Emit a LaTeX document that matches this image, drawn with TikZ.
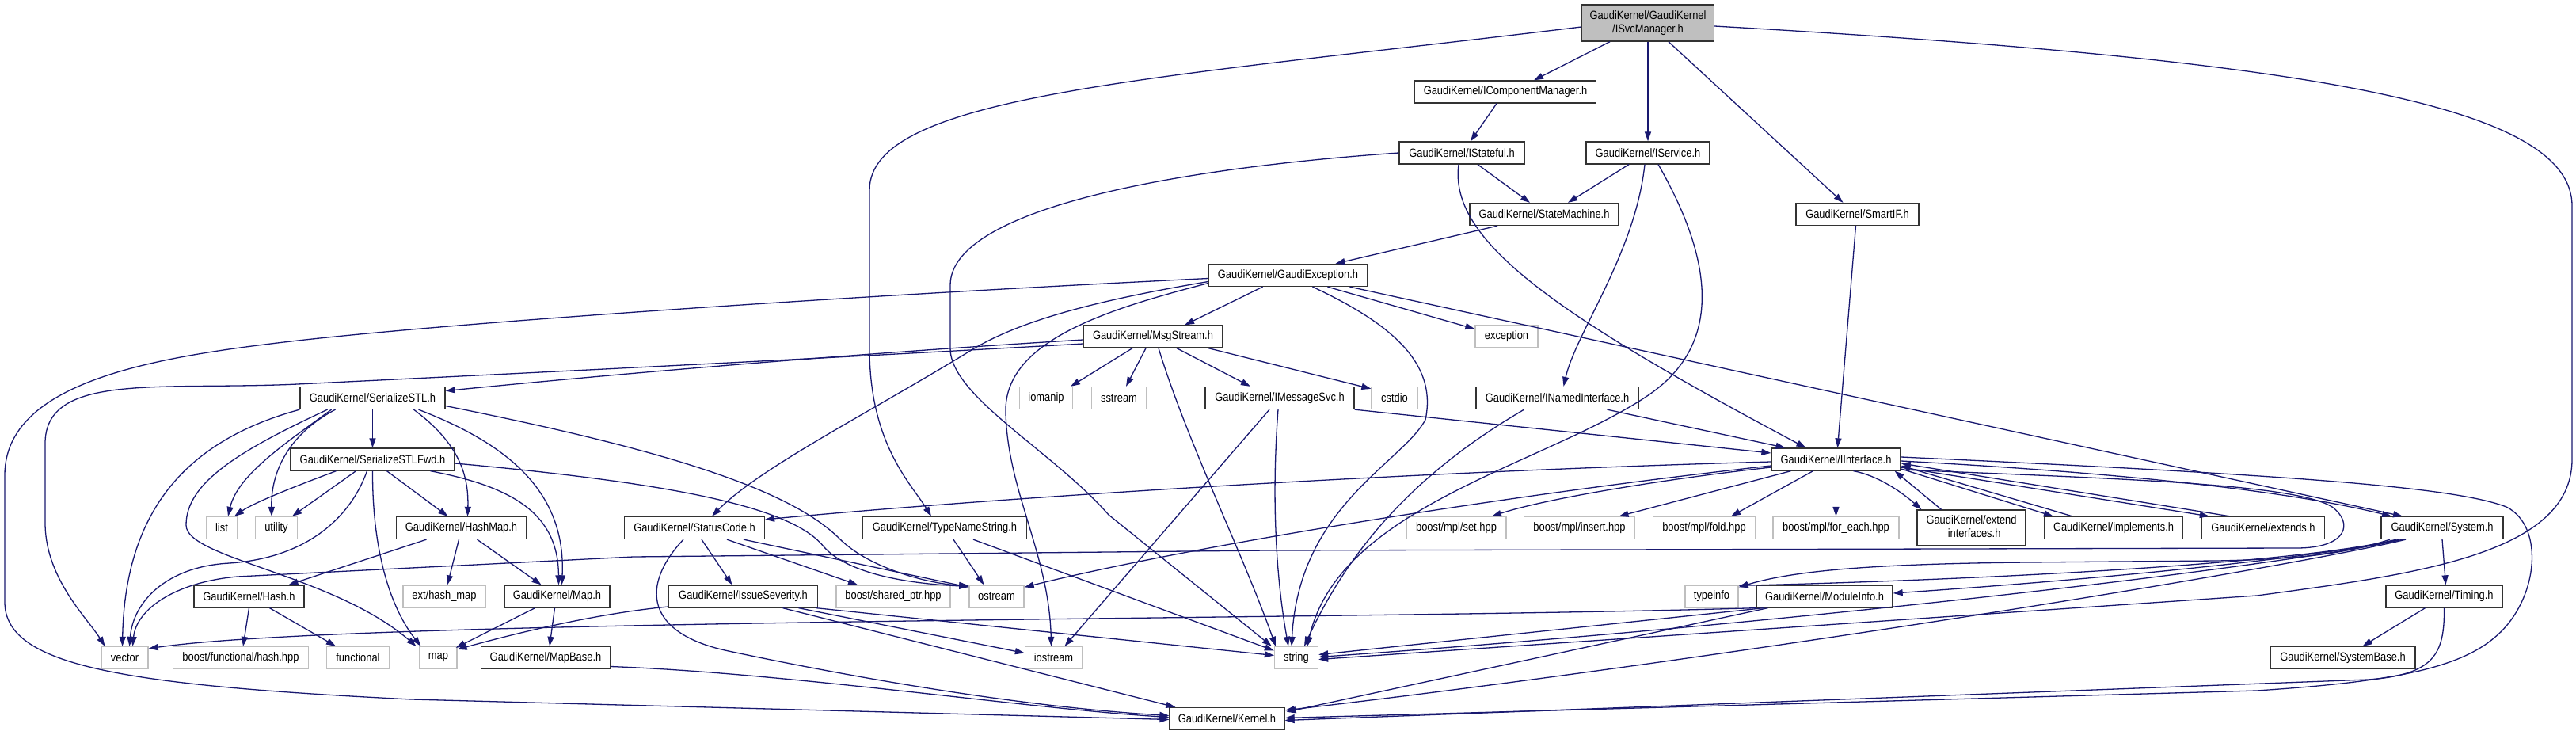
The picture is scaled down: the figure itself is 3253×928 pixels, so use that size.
\documentclass[tikz,border=0pt]{standalone}
\usepackage{fontspec}
\setmainfont{Liberation Sans}[FakeStretch=0.86]
\usetikzlibrary{arrows.meta}
\definecolor{edgec}{HTML}{191970}
\definecolor{sysgray}{HTML}{BFBFBF}
\definecolor{rootgray}{HTML}{BFBFBF}
\newcommand\gkfont{\fontsize{15}{17}\selectfont}
\begin{document}
\begin{tikzpicture}[x=1pt,y=-1pt,
 hdr/.style={draw=black!80, line width=1.3pt, fill=white, rectangle, minimum height=28pt, inner sep=0pt, align=center, font=\gkfont},
 sys/.style={hdr, draw=sysgray},
 conn/.style={draw=edgec, line width=1.3pt, -{Triangle[length=12pt,width=8pt]}},
]
\useasboundingbox (0,0) rectangle (3253,928);
\fill[white] (0,0) rectangle (3253,928);
% ---------------- nodes ----------------
\node[hdr, fill=rootgray, minimum width=167pt, minimum height=46pt] (svc) at (2081,29) {GaudiKernel/GaudiKernel\\/ISvcManager.h};
\node[hdr, minimum width=229pt] (icm) at (1901,116) {GaudiKernel/IComponentManager.h};
\node[hdr, minimum width=158pt] (istate) at (1846,193) {GaudiKernel/IStateful.h};
\node[hdr, minimum width=156pt] (iserv) at (2081,193) {GaudiKernel/IService.h};
\node[hdr, minimum width=188pt] (statem) at (1950,270.5) {GaudiKernel/StateMachine.h};
\node[hdr, minimum width=155pt] (smartif) at (2345.5,270.5) {GaudiKernel/SmartIF.h};
\node[hdr, minimum width=200pt] (gexc) at (1626.5,347.5) {GaudiKernel/GaudiException.h};
\node[sys, minimum width=79pt] (exc) at (1902.5,425) {exception};
\node[hdr, minimum width=175pt] (msg) at (1456,425) {GaudiKernel/MsgStream.h};
\node[sys, minimum width=67pt] (iomanip) at (1321,502.5) {iomanip};
\node[sys, minimum width=69pt] (sstream) at (1413,502.5) {sstream};
\node[hdr, minimum width=188pt] (imsg) at (1616,502.5) {GaudiKernel/IMessageSvc.h};
\node[sys, minimum width=58pt] (cstdio) at (1761,502.5) {cstdio};
\node[hdr, minimum width=205pt] (inamed) at (1966.5,502.5) {GaudiKernel/INamedInterface.h};
\node[hdr, minimum width=183pt] (sstl) at (470.5,502.5) {GaudiKernel/SerializeSTL.h};
\node[hdr, minimum width=163pt] (iint) at (2318.5,580) {GaudiKernel/IInterface.h};
\node[hdr, minimum width=207pt] (sfwd) at (470.5,580) {GaudiKernel/SerializeSTLFwd.h};
\node[sys, minimum width=39pt] (list) at (280,666.5) {list};
\node[sys, minimum width=53pt] (utility) at (349,666.5) {utility};
\node[hdr, minimum width=164pt] (hashmap) at (582.5,666.5) {GaudiKernel/HashMap.h};
\node[hdr, minimum width=177pt] (status) at (877,666.5) {GaudiKernel/StatusCode.h};
\node[hdr, minimum width=207pt] (tns) at (1193,666.5) {GaudiKernel/TypeNameString.h};
\node[sys, minimum width=126pt] (mplset) at (1839,666.5) {boost/mpl/set.hpp};
\node[sys, minimum width=140pt] (mplins) at (1994.5,666.5) {boost/mpl/insert.hpp};
\node[sys, minimum width=129pt] (mplfold) at (2152,666.5) {boost/mpl/fold.hpp};
\node[sys, minimum width=159pt] (mplfe) at (2318.5,666.5) {boost/mpl/for\_each.hpp};
\node[hdr, minimum width=137pt, minimum height=45pt] (extint) at (2489.5,666.5) {GaudiKernel/extend\\\_interfaces.h};
\node[hdr, minimum width=175pt] (impl) at (2669,666.5) {GaudiKernel/implements.h};
\node[hdr, minimum width=155pt] (ext) at (2858,666.5) {GaudiKernel/extends.h};
\node[hdr, minimum width=154pt] (system) at (3084,666.5) {GaudiKernel/System.h};
\node[hdr, minimum width=139pt] (hash) at (314.5,753) {GaudiKernel/Hash.h};
\node[sys, minimum width=104pt] (exthm) at (561,753) {ext/hash\_map};
\node[hdr, minimum width=133pt] (maph) at (703.5,753) {GaudiKernel/Map.h};
\node[hdr, minimum width=188pt] (issue) at (938.5,753) {GaudiKernel/IssueSeverity.h};
\node[sys, minimum width=144pt] (bsp) at (1128,753) {boost/shared\_ptr.hpp};
\node[sys, minimum width=69pt] (ostream) at (1258.5,753) {ostream};
\node[sys, minimum width=67pt] (typeinfo) at (2161.5,753) {typeinfo};
\node[hdr, minimum width=172pt] (modinfo) at (2304,753) {GaudiKernel/ModuleInfo.h};
\node[hdr, minimum width=147pt] (timing) at (3086.5,753) {GaudiKernel/Timing.h};
\node[sys, minimum width=59pt] (vector) at (157.5,830.5) {vector};
\node[sys, minimum width=171pt] (bfh) at (304,830.5) {boost/functional/hash.hpp};
\node[sys, minimum width=79pt] (functional) at (452,830.5) {functional};
\node[sys, minimum width=47pt] (mapstd) at (553.5,830.5) {map};
\node[hdr, minimum width=163pt] (mapbase) at (689,830.5) {GaudiKernel/MapBase.h};
\node[sys, minimum width=72pt] (iostream) at (1330.5,830.5) {iostream};
\node[sys, minimum width=55pt] (string) at (1637,830.5) {string};
\node[hdr, minimum width=183pt] (sysbase) at (2958.5,830.5) {GaudiKernel/SystemBase.h};
\node[hdr, minimum width=145pt] (kernel) at (1549.5,907.5) {GaudiKernel/Kernel.h};
% ---------------- edges ----------------
% ISvcManager
\draw[conn] ([xshift=-48pt]svc.south) -- ([xshift=36pt]icm.north);
\draw[conn] (svc.south) -- (iserv.north);
\draw[conn] ([xshift=26pt]svc.south) -- ([xshift=-18pt]smartif.north);
\draw[conn] ([yshift=-5pt]svc.west) .. controls (1450,100) and (1098,120) .. (1098,240) -- (1098,440) .. controls (1098,560) and (1150,610) .. ([xshift=-17pt]tns.north);
\draw[conn] ([yshift=-4pt]svc.east) .. controls (2900,75) and (3248,130) .. (3248,260) -- (3248,580) .. controls (3248,700) and (3050,725) .. (2850,752) -- ([yshift=-2pt]string.east);
% IComponentManager, IStateful, IService, SmartIF, StateMachine
\draw[conn] ([xshift=-11pt]icm.south) -- ([xshift=11pt]istate.north);
\draw[conn] ([xshift=20pt]istate.south) -- ([xshift=-18pt]statem.north);
\draw[conn] ([xshift=-4pt]istate.south) .. controls (1830,300) and (1950,390) .. ([xshift=-38pt]iint.north);
\draw[conn] (istate.west) .. controls (1450,215) and (1200,270) .. (1200,360) -- (1200,440) .. controls (1200,500) and (1330,570) .. (1400,650) -- ([xshift=-3pt]string.north west);
\draw[conn] ([xshift=-24pt]iserv.south) -- ([xshift=30pt]statem.north);
\draw[conn] ([xshift=-4pt]iserv.south) .. controls (2065,320) and (1990,420) .. ([xshift=8pt]inamed.north);
\draw[conn] ([xshift=13pt]iserv.south) .. controls (2170,340) and (2170,440) .. (2080,500) .. controls (1950,587) and (1690,640) .. ([xshift=14pt]string.north);
\draw[conn] ([xshift=-2pt]smartif.south) -- ([xshift=2pt]iint.north);
\draw[conn] ([xshift=-59pt]statem.south) -- ([xshift=60pt]gexc.north);
% GaudiException
\draw[conn] ([xshift=-32pt]gexc.south) -- ([xshift=40pt]msg.north);
\draw[conn] ([xshift=50pt]gexc.south) -- ([yshift=-5pt]exc.north west);
\draw[conn] ([yshift=-10pt]gexc.west) .. controls (1400,390) and (1268,430) .. (1270,520) .. controls (1272,620) and (1325,700) .. ([xshift=-3pt]iostream.north);
\draw[conn] ([xshift=31pt]gexc.south) .. controls (1760,410) and (1815,460) .. (1800,530) .. controls (1770,585) and (1640,640) .. ([xshift=-6pt]string.north);
\draw[conn] ([yshift=-8pt]gexc.west) .. controls (1380,380) and (1290,405) .. (1230,440) .. controls (1100,520) and (960,590) .. ([xshift=22pt]status.north);
\draw[conn] ([yshift=-4pt]gexc.west) .. controls (1100,372) and (600,405) .. (376,430) .. controls (200,450) and (6,480) .. (6,600) -- (6,760) .. controls (6,840) and (150,865) .. (520,883) -- ([yshift=-1pt]kernel.west);
\draw[conn] ([xshift=78pt]gexc.south) -- ([xshift=-50pt]system.north);
% MsgStream
\draw[conn] ([xshift=-26pt]msg.south) -- ([xshift=31pt]iomanip.north);
\draw[conn] ([xshift=-9pt]msg.south) -- ([xshift=9pt]sstream.north);
\draw[conn] ([xshift=30pt]msg.south) -- ([xshift=-37pt]imsg.north);
\draw[conn] ([xshift=70pt]msg.south) -- ([yshift=-3pt]cstdio.north west);
\draw[conn] ([xshift=7pt]msg.south) .. controls (1500,560) and (1570,700) .. ([xshift=2pt]string.north west);
\draw[conn] ([yshift=-4pt]msg.west) .. controls (1100,445) and (800,470) .. ([yshift=9pt]sstl.east);
\draw[conn] ([yshift=-9pt]msg.west) .. controls (1000,455) and (520,478) .. (376,485) .. controls (200,493) and (57,470) .. (57,560) -- (57,660) .. controls (57,730) and (110,780) .. ([xshift=-25pt]vector.north);
% IMessageSvc, INamedInterface
\draw[conn] (imsg.south east) -- ([yshift=8pt]iint.west);
\draw[conn] ([xshift=-13pt]imsg.south) -- ([xshift=14pt]iostream.north);
\draw[conn] ([xshift=-2pt]imsg.south) .. controls (1604,650) and (1615,750) .. ([xshift=-10pt]string.north);
\draw[conn] ([xshift=63pt]inamed.south) -- ([xshift=-64pt]iint.north);
\draw[conn] ([xshift=-42pt]inamed.south) .. controls (1800,590) and (1710,680) .. ([xshift=10pt]string.north);
% SerializeSTL
\draw[conn] (sstl.south) -- (sfwd.north);
\draw[conn] (sstl.south west) .. controls (240,555) and (158,640) .. ([xshift=-3pt]vector.north);
\draw[conn] ([xshift=-57pt]sstl.south) .. controls (300,570) and (235,610) .. (235,663) .. controls (235,705) and (420,725) .. ([xshift=-28pt]mapstd.north);
\draw[conn] ([xshift=-52pt]sstl.south) .. controls (360,560) and (300,600) .. ([xshift=8pt]list.north);
\draw[conn] ([xshift=-47pt]sstl.south) .. controls (370,545) and (342,590) .. ([xshift=-6pt]utility.north);
\draw[conn] ([xshift=52pt]sstl.south) .. controls (580,560) and (592,600) .. ([xshift=8pt]hashmap.north);
\draw[conn] ([xshift=58pt]sstl.south) .. controls (640,560) and (715,620) .. ([xshift=6pt]maph.north);
\draw[conn] ([yshift=-10pt]sstl.east) .. controls (800,560) and (990,610) .. (1060,680) .. controls (1100,720) and (1180,738) .. ([yshift=-1pt]ostream.north west);
% SerializeSTLFwd
\draw[conn] ([xshift=-46pt]sfwd.south) .. controls (370,615) and (320,635) .. ([xshift=16pt]list.north);
\draw[conn] ([xshift=-21pt]sfwd.south) -- ([xshift=20pt]utility.north);
\draw[conn] ([xshift=-7pt]sfwd.south) .. controls (440,660) and (380,705) .. (290,711) .. controls (210,715) and (168,760) .. ([xshift=6pt]vector.north);
\draw[conn] (sfwd.south) .. controls (470,700) and (495,770) .. ([xshift=-22pt]mapstd.north);
\draw[conn] ([xshift=18pt]sfwd.south) -- ([xshift=-17pt]hashmap.north);
\draw[conn] ([xshift=73pt]sfwd.south) .. controls (650,615) and (705,650) .. ([xshift=2pt]maph.north);
\draw[conn] ([yshift=-5pt]sfwd.east) .. controls (850,610) and (1000,640) .. (1040,690) .. controls (1075,730) and (1170,738) .. ([yshift=-2pt]ostream.north west);
% HashMap, Hash, Map, MapBase
\draw[conn] ([xshift=-44pt]hashmap.south) -- ([xshift=50pt]hash.north);
\draw[conn] ([xshift=-3pt]hashmap.south) -- ([xshift=4pt]exthm.north);
\draw[conn] ([xshift=20pt]hashmap.south) -- ([xshift=-20pt]maph.north);
\draw[conn] (hash.south) -- ([xshift=3pt]bfh.north);
\draw[conn] ([xshift=26pt]hash.south) -- ([xshift=-28pt]functional.north);
\draw[conn] ([xshift=-28pt]maph.south) -- ([xshift=-2pt,yshift=-2pt]mapstd.north east);
\draw[conn] ([xshift=-3pt]maph.south) -- ([xshift=5pt]mapbase.north);
\draw[conn] ([yshift=-11pt]mapbase.east) .. controls (1000,850) and (1300,895) .. ([yshift=2pt]kernel.west);
% StatusCode, IssueSeverity, TypeNameString
\draw[conn] ([xshift=9pt]status.south) -- ([xshift=-14pt]issue.north);
\draw[conn] ([xshift=41pt]status.south) -- ([xshift=-45pt]bsp.north);
\draw[conn] ([xshift=62pt]status.south) -- ([yshift=-3pt]ostream.north west);
\draw[conn] ([xshift=-14pt]status.south) .. controls (808,740) and (815,800) .. (920,822) .. controls (1100,860) and (1300,893) .. ([yshift=4pt]kernel.west);
\draw[conn] ([xshift=70pt]issue.south) -- ([yshift=6pt]iostream.west);
\draw[conn] ([xshift=92pt]issue.south) -- ([yshift=3pt]string.west);
\draw[conn] ([xshift=50pt]issue.south) -- ([xshift=8pt]kernel.north west);
\draw[conn] ([yshift=-13pt]issue.west) .. controls (750,775) and (650,800) .. ([yshift=-4pt]mapstd.north east);
\draw[conn] ([xshift=11pt]tns.south) -- ([xshift=-16pt]ostream.north);
\draw[conn] ([xshift=36pt]tns.south) -- ([yshift=9pt]string.west);
% IInterface
\draw[conn] ([yshift=-3pt]iint.west) .. controls (1800,595) and (1300,625) .. ([yshift=-4pt]status.north east);
\draw[conn] ([yshift=-8pt]iint.west) .. controls (1900,625) and (1500,690) .. ([yshift=-3pt]ostream.north east);
\draw[conn] ([yshift=-10pt]iint.west) .. controls (2100,605) and (1950,630) .. ([xshift=45pt]mplset.north);
\draw[conn] ([xshift=-57pt]iint.south) -- ([xshift=50pt]mplins.north);
\draw[conn] ([xshift=-29pt]iint.south) -- ([xshift=34pt]mplfold.north);
\draw[conn] (iint.south) -- (mplfe.north);
\draw[conn] ([xshift=22pt]iint.south) .. controls (2370,600) and (2400,620) .. ([xshift=6pt]extint.north west);
\draw[conn] ([xshift=-38pt]extint.north) -- ([xshift=-8pt]iint.south east);
\draw[conn] ([yshift=-12pt]iint.east) -- ([xshift=12pt]impl.north west);
\draw[conn] ([xshift=-52pt]impl.north) -- ([yshift=-8pt]iint.east);
\draw[conn] ([yshift=-10pt]iint.east) -- ([xshift=10pt]ext.north west);
\draw[conn] ([xshift=-42pt]ext.north) -- ([yshift=-5pt]iint.east);
\draw[conn] ([yshift=-2pt]iint.east) .. controls (2700,598) and (2900,622) .. ([xshift=-64pt]system.north);
\draw[conn] ([yshift=3pt]iint.east) .. controls (2900,600) and (3100,615) .. (3165,640) .. controls (3215,665) and (3205,760) .. (3150,805) .. controls (3100,848) and (3000,862) .. (2850,872) -- ([yshift=1pt]kernel.east);
\draw[conn] ([yshift=-13pt]iint.east) .. controls (2700,605) and (2900,612) .. (2945,640) .. controls (2972,660) and (2965,692) .. (2900,692) -- (1600,695) -- (800,703) -- (300,728) .. controls (220,735) and (172,770) .. ([xshift=10pt]vector.north);
% System, Timing, ModuleInfo
\draw[conn] (system.south) -- ([xshift=2pt]timing.north);
\draw[conn] ([xshift=-24pt]timing.south) -- ([xshift=25pt]sysbase.north);
\draw[conn] (timing.south) .. controls (3087,825) and (3075,852) .. (2990,858) -- ([yshift=-2pt]kernel.east);
\draw[conn] ([xshift=-54pt]system.south) .. controls (2950,700) and (2700,728) .. ([yshift=4pt]modinfo.east);
\draw[conn] ([xshift=-58pt]system.south) .. controls (2900,712) and (2500,732) .. ([yshift=-1pt]typeinfo.north east);
\draw[conn] ([xshift=-66pt]system.south) .. controls (2960,700) and (2900,706) .. (2800,708) -- (2560,710) .. controls (2350,712) and (2260,722) .. ([yshift=-3pt]typeinfo.north east);
\draw[conn] ([xshift=-50pt]system.south) .. controls (2900,712) and (2300,785) .. ([yshift=1pt]string.east);
\draw[conn] ([xshift=-46pt]system.south) .. controls (2900,715) and (2200,830) .. ([yshift=-4pt]kernel.north east);
\draw[conn] (modinfo.south west) .. controls (1700,783) and (450,781) .. ([yshift=-3pt]vector.north east);
\draw[conn] ([xshift=10pt]modinfo.south west) -- ([yshift=4pt]string.east);
\draw[conn] ([xshift=15pt]modinfo.south west) -- ([xshift=2pt,yshift=-6pt]kernel.north east);
\end{tikzpicture}
\end{document}
